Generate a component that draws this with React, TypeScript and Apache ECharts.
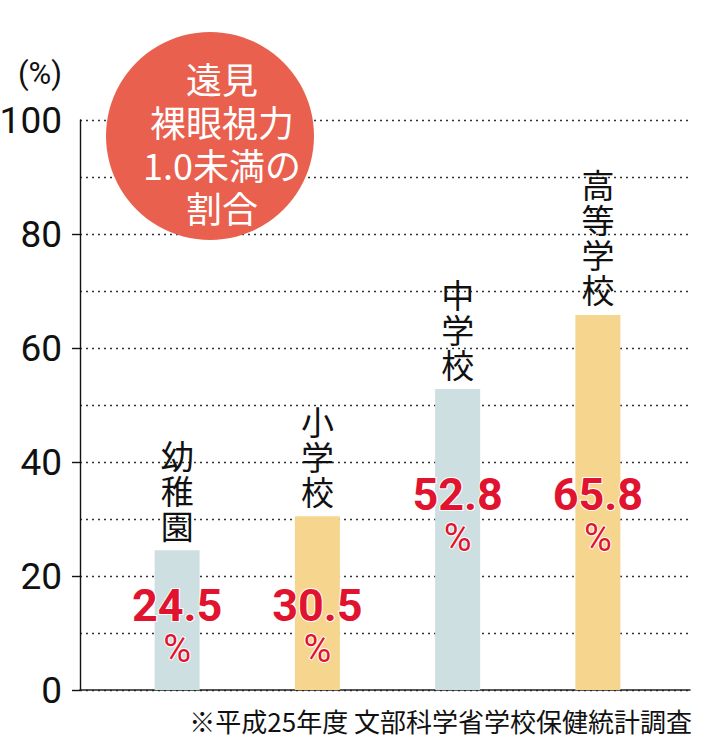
import React, { useEffect, useRef } from "react";
import * as echarts from "echarts";

const categories = ["幼稚園", "小学校", "中学校", "高等学校"];
const values = [24.5, 30.5, 52.8, 65.8];
const yTickValues = [0, 20, 40, 60, 80, 100];
const titleLines = ["遠見", "裸眼視力", "1.0未満の", "割合"];
const unitText = "(%)";
const sourceText = "※平成25年度 文部科学省学校保健統計調査";

const barColors = ["#cddfe0", "#f6d68f", "#cddfe0", "#f6d68f"];
const valueLabelLift = [20, 20, 131, 131];

const NARROW = "'Liberation Sans Narrow', Roboto, sans-serif";
const CJK = "'Noto Sans CJK JP', 'Noto Sans', sans-serif";

export default function App() {
  const ref = useRef<HTMLDivElement>(null);
  useEffect(() => {
    if (!ref.current) return;
    const chart = echarts.init(ref.current, null, { renderer: "svg" });
    const gridTop = 120;
    const gridBottom = 59;
    chart.setOption({
      animation: false,
      backgroundColor: "#ffffff",
      grid: [
        { left: 80, right: 17, top: gridTop, bottom: gridBottom, outerBoundsMode: "none", containLabel: false },
        { left: 107, right: 39, top: gridTop, bottom: gridBottom, outerBoundsMode: "none", containLabel: false },
      ],
      xAxis: [
        {
          gridIndex: 0,
          type: "category",
          data: categories,
          axisLine: { show: true, lineStyle: { color: "#222", width: 1.6 } },
          axisTick: { show: false },
          axisLabel: { show: false },
        },
        {
          gridIndex: 1,
          type: "category",
          data: categories,
          axisLine: { show: false },
          axisTick: { show: false },
          axisLabel: { show: false },
        },
      ],
      yAxis: [
        {
          gridIndex: 0,
          type: "value",
          min: 0,
          max: 100,
          interval: 20,
          axisLine: { show: true, lineStyle: { color: "#111", width: 1.4 } },
          axisTick: {
            show: true,
            length: 8,
            inside: false,
            customValues: [0, 20, 40, 60, 80],
            lineStyle: { color: "#111", width: 1.4 },
          },
          axisLabel: {
            customValues: yTickValues,
            margin: 18,
            color: "#111",
            fontSize: 37,
            fontFamily: NARROW,
          },
          splitLine: { show: false },
        },
        {
          gridIndex: 0,
          type: "value",
          min: 0,
          max: 100,
          interval: 10,
          axisLine: { show: false },
          axisTick: { show: false },
          axisLabel: { show: false },
          splitLine: {
            show: true,
            lineStyle: { color: "#333", width: 1.3, type: [2, 4] },
          },
        },
        {
          gridIndex: 1,
          type: "value",
          min: 0,
          max: 100,
          interval: 10,
          show: false,
          splitLine: { show: false },
        },
      ],
      series: [
        {
          type: "bar",
          xAxisIndex: 1,
          yAxisIndex: 2,
          barWidth: 45,
          z: 3,
          data: values.map((v, i) => ({
            value: v,
            itemStyle: { color: barColors[i] },
          })),
          label: {
            show: true,
            position: "top",
            distance: 8,
            color: "#111",
            fontSize: 33,
            lineHeight: 35,
            fontFamily: CJK,
            formatter: (p: any) => categories[p.dataIndex].split("").join("\n"),
          },
        },
        {
          type: "bar",
          xAxisIndex: 1,
          yAxisIndex: 2,
          barWidth: 45,
          barGap: "-100%",
          z: 4,
          itemStyle: { color: "rgba(0,0,0,0)" },
          data: values.map((v, i) => ({
            value: v,
            label: {
              show: true,
              position: "insideBottom",
              distance: valueLabelLift[i],
            },
          })),
          label: {
            show: true,
            position: "insideBottom",
            formatter: (p: any) => `{n|${values[p.dataIndex]}}\n{p|%}`,
            rich: {
              n: {
                fontSize: 45,
                fontWeight: "bold",
                fontFamily: NARROW,
                color: "#e0142f",
                lineHeight: 43,
                textBorderColor: "#ffffff",
                textBorderWidth: 2,
              },
              p: {
                fontSize: 38,
                fontFamily: NARROW,
                color: "#e0142f",
                lineHeight: 43,
                textBorderColor: "#ffffff",
                textBorderWidth: 2,
              },
            },
          },
        },
      ],
      graphic: [
        {
          type: "circle",
          shape: { cx: 210, cy: 136, r: 104 },
          style: { fill: "#e9604f" },
          z: 10,
        },
        {
          type: "text",
          x: 222,
          y: 142,
          z: 11,
          style: {
            text: titleLines.join("\n"),
            fill: "#ffffff",
            fontSize: 36,
            lineHeight: 43,
            fontFamily: CJK,
            align: "center",
            verticalAlign: "middle",
          },
        },
        {
          type: "text",
          x: 40,
          y: 73,
          z: 11,
          style: {
            text: unitText,
            fill: "#111",
            fontSize: 31,
            fontFamily: NARROW,
            align: "center",
            verticalAlign: "middle",
          },
        },
        {
          type: "text",
          x: 692,
          y: 720,
          z: 11,
          style: {
            text: sourceText,
            fill: "#111",
            fontSize: 26,
            fontFamily: CJK,
            align: "right",
            verticalAlign: "middle",
          },
        },
      ],
    });
    return () => chart.dispose();
  }, []);
  return (
    <div
      ref={ref}
      style={{ position: "absolute", left: 0, top: 0, width: 707, height: 749 }}
    />
  );
}
